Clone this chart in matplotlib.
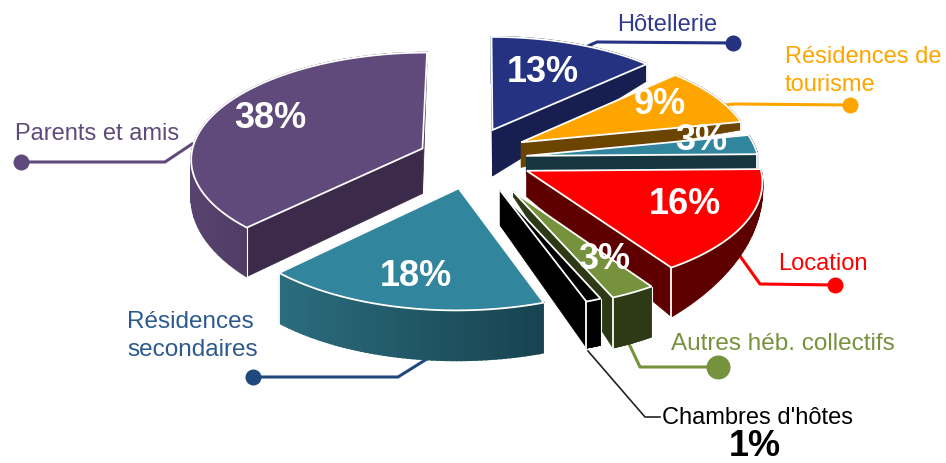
#Imports
import numpy as np
import matplotlib
matplotlib.use("Agg")
import matplotlib.pyplot as plt

plt.rcParams["font.family"] = ["Liberation Sans", "DejaVu Sans"]

#Chart data, clockwise from the top
categories = ["Hôtellerie", "Résidences de\ntourisme", "Autres", "Location",
              "Autres héb. collectifs", "Chambres d'hôtes",
              "Résidences\nsecondaires", "Parents et amis"]
shares = [13, 9, 3, 16, 3, 1, 18, 38]

#Colours: top face, radial wall, rim wall (left end, right end)
topColors = ["#253282", "#ffa500", "#31859c", "#ff0000", "#76923c", "#000000", "#31859c", "#604a7b"]
wallColors = ["#171f50", "#6b4400", "#15363f", "#5f0000", "#2d3a15", "#000000", "#183f4c", "#3b2a49"]
rimColors = [("#171f50", "#171f50"), ("#6b4400", "#6b4400"), ("#15363f", "#15363f"),
             ("#5f0000", "#5f0000"), ("#2d3a15", "#2d3a15"), ("#000000", "#000000"),
             ("#184350", "#2b6d7e"), ("#3b2a49", "#57436f")]

#How far each slice is pulled out of the pie, in radius units (across, back)
shifts = [(0.055, 0.28), (0.18, 0.16), (0.20, 0.03), (0.20, -0.11),
          (0.14, -0.30), (0.085, -0.29), (-0.09, -0.27), (-0.25, 0.10)]

#Radius of each slice relative to the whole pie
sizes = [1, 1, 1, 1, 0.95, 0.97, 1, 1]

#Wall height of each slice in pixels: at the tip, first rim end, last rim end
depths = [(46, 46, 17), (25, 20, 8), (18, 15, 15), (26, 0, 49),
          (5, 50, 50), (35, 46, 46), (45, 50, 50), (45, 49, 10)]

#Back slices are painted first
drawOrder = [0, 1, 2, 7, 3, 4, 5, 6]

centerX, centerY = 480, 160
radius, squash, perspective = 232, 0.457, 0.087


#Plane coordinates to picture pixels
def project(u, v):
    s = 1 / (1 + perspective * v)
    return centerX + radius * s * u, centerY - radius * squash * s * v


def hexMix(c1, c2, t):
    a = np.array(matplotlib.colors.to_rgb(c1))
    b = np.array(matplotlib.colors.to_rgb(c2))
    return tuple(a + (b - a) * t)


def drawSlice(ax, i, a1, a2):
    ox, oy = shifts[i]
    dTip, dStart, dEnd = depths[i]
    angles = np.radians(np.linspace(a1, a2, 60))
    rimX, rimY = project(ox + sizes[i] * np.cos(angles), oy + sizes[i] * np.sin(angles))
    tipX, tipY = project(ox, oy)
    rimDepth = np.maximum(np.linspace(dStart, dEnd, 60), 0)

    #Radial walls
    ax.fill([tipX, rimX[0], rimX[0], tipX],
            [tipY, rimY[0], rimY[0] + rimDepth[0], tipY + dTip],
            color=wallColors[i], lw=0.5, zorder=2)
    ax.fill([tipX, rimX[-1], rimX[-1], tipX],
            [tipY, rimY[-1], rimY[-1] + rimDepth[-1], tipY + dTip],
            color=wallColors[i], lw=0.5, zorder=2)

    #Rim wall in thin strips so it can shade along the arc
    c1, c2 = rimColors[i]
    lo, hi = min(rimX), max(rimX)
    for k in range(59):
        col = hexMix(c1, c2, 1 - (rimX[k] - lo) / max(hi - lo, 1))
        ax.fill([rimX[k], rimX[k + 1], rimX[k + 1], rimX[k]],
                [rimY[k], rimY[k + 1], rimY[k + 1] + rimDepth[k + 1], rimY[k] + rimDepth[k]],
                color=col, lw=1.2, zorder=2)

    #White corner lines and top face
    ax.plot([rimX[-1], rimX[-1]], [rimY[-1], rimY[-1] + rimDepth[-1]], color="white", lw=1.3, zorder=2)
    ax.plot([rimX[0], rimX[0]], [rimY[0], rimY[0] + rimDepth[0]], color="white", lw=0.8, zorder=2)
    ax.fill(np.r_[tipX, rimX], np.r_[tipY, rimY], facecolor=topColors[i],
            edgecolor="white", lw=1.3, joinstyle="miter", zorder=2)


fig = plt.figure(figsize=(9.46, 4.64), dpi=100)
ax = fig.add_axes([0, 0, 1, 1])
ax.set_xlim(0, 946)
ax.set_ylim(464, 0)
ax.axis("off")

total = sum(shares)
edges = 90 - np.cumsum([0] + shares) * 360 / total

#Leader lines go under the pie, dot size and dot position come last
leaders = [([588, 597, 733], [47, 43, 44], "#253282", 8, 733, 44),
           ([715, 735, 850], [107, 105, 106], "#ffa500", 8, 850, 106),
           ([735, 760, 835], [250, 285, 286], "#ff0000", 8, 835, 286),
           ([622, 640, 718], [330, 368, 368], "#76923c", 12, 718, 368),
           ([253, 398, 430], [378, 378, 358], "#1f497d", 8, 253, 378),
           ([21, 165, 192], [163, 163, 145], "#604a7b", 8, 21, 163)]
for xs, ys, col, size, dotX, dotY in leaders:
    ax.plot(xs, ys, color=col, lw=2.2, zorder=1, solid_joinstyle="round")
    ax.plot(dotX, dotY, "o", color=col, ms=size * 2 * 0.72, mew=0, zorder=1)
ax.plot([588, 645, 660], [352, 418, 418], color="#222222", lw=1.2, zorder=1)

for i in drawOrder:
    drawSlice(ax, i, edges[i], edges[i + 1])

#Percent labels
pctPos = [(543, 73), (660, 105), (701, 141), (685, 205), (604, 260), None, (416, 277), (270, 118)]
for i, pos in enumerate(pctPos):
    if pos is not None:
        ax.text(pos[0], pos[1], f"{shares[i]}%", color="white", fontsize=26, fontweight="bold",
                ha="center", va="center", zorder=5)
ax.text(755, 447, f"{shares[5]}%", color="black", fontsize=26, fontweight="bold", ha="center", va="center")

#Category labels
ax.text(667, 25, categories[0], color="#2f3a8f", fontsize=17, ha="center", va="center")
ax.text(785, 71, categories[1], color="#ffa500", fontsize=17, ha="left", va="center", linespacing=1.3)
ax.text(823, 264, categories[3], color="#ff0000", fontsize=17, ha="center", va="center")
ax.text(783, 344, categories[4], color="#76923c", fontsize=17.5, ha="center", va="center")
ax.text(757, 418, categories[5], color="black", fontsize=17, ha="center", va="center")
ax.text(127, 336, categories[6], color="#2d5a8e", fontsize=17.5, ha="left", va="center", linespacing=1.3)
ax.text(15, 134, categories[7], color="#604a7b", fontsize=17, ha="left", va="center")

fig.savefig("out.png", dpi=100)
